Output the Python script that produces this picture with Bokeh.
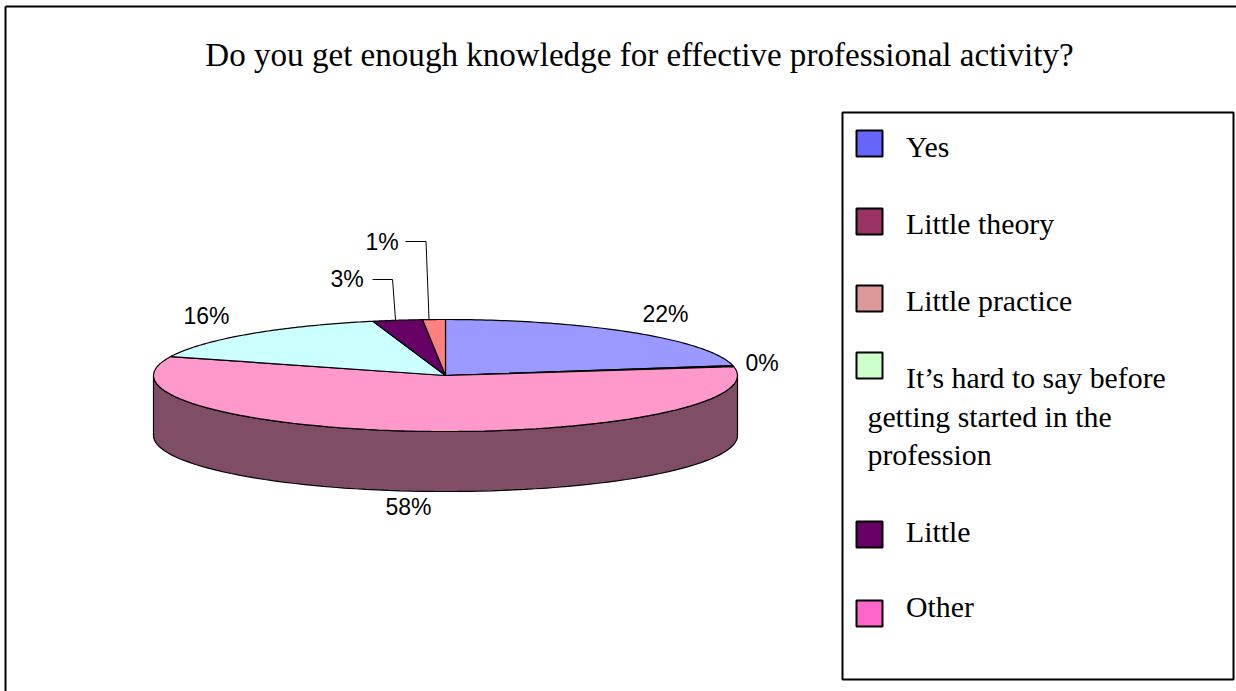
import math
from bokeh.plotting import figure
from bokeh.models import Range1d
from bokeh.core.properties import value
from bokeh.embed import file_html
from bokeh.resources import INLINE

# data
title_text = "Do you get enough knowledge for effective professional activity?"
slice_names = ["Yes", "Little theory", "Other", "It's hard to say", "Little", "Little practice"]
slice_values = [22.2, 0.3, 58.0, 15.5, 2.75, 1.25]
slice_labels = ["22%", "0%", "58%", "16%", "3%", "1%"]
slice_colors = ["#9999FF", "#993366", "#FF99CC", "#CCFFFF", "#660066", "#FF8080"]
side_color = "#804D66"

legend_names = ["Yes", "Little theory", "Little practice", "It\u2019s hard to say before", "Little", "Other"]
legend_colors = ["#6666FF", "#993366", "#DD9999", "#CCFFCC", "#660066", "#FF66CC"]
legend_extra = ["getting started in the", "profession"]

# layout (picture pixels, used as data space)
W, H = 1236, 691
CX, CY, RX, RY, DEPTH = 445, 375, 292, 56, 60
TITLE_FONT = "33.1px"
LEGEND_FONT = "29.8px"
LABEL_FONT = "23px"
SERIF = "Liberation Serif"
SANS = "Liberation Sans"
label_pos = [(642, 321 - 8), (745, 370 - 8), (385, 514 - 8), (183, 322 - 7), (330, 287 - 9), (365, 250 - 9)]
swatch_top = [130, 208, 285, 352, 521, 600]
legend_base = [146, 223, 300, 377, 531, 606]
extra_base = [416, 454]

p = figure(width=W, height=H, output_backend="svg", toolbar_location=None,
           x_range=Range1d(0, W), y_range=Range1d(H, 0),
           min_border=0, outline_line_color=None)
p.xaxis.visible = False
p.yaxis.visible = False
p.xgrid.visible = False
p.ygrid.visible = False
p.border_fill_color = "white"
p.background_fill_color = "white"


def rim(t):
    return CX + RX * math.sin(t), CY - RY * math.cos(t)


def arc(a, b, n=80):
    pts = [a + (b - a) * i / n for i in range(n + 1)]
    return [rim(t) for t in pts]


# outer frame
p.line([5, 5], [691, 6], line_color="black", line_width=2)
p.line([5, 1236], [6, 6], line_color="black", line_width=2)

# side wall
front = arc(math.pi / 2, 3 * math.pi / 2)
sx = [q[0] for q in front] + [q[0] for q in reversed(front)]
sy = [q[1] for q in front] + [q[1] + DEPTH for q in reversed(front)]
p.patch(sx, sy, fill_color=side_color, line_color="black", line_width=1.2)

# top wedges
total = sum(slice_values)
start = 0.0
mids = []
for val, col in zip(slice_values, slice_colors):
    a = start / total * 2 * math.pi
    b = (start + val) / total * 2 * math.pi
    pts = arc(a, b)
    p.patch([CX] + [q[0] for q in pts], [CY] + [q[1] for q in pts],
            fill_color=col, line_color="black", line_width=1.2)
    mids.append((a + b) / 2)
    start += val

# leader lines for the two narrow slices: (label end x, y, offset from slice middle)
for idx, (ex, ey, off) in {4: (372, 279, -2), 5: (405, 241, -5)}.items():
    mx, my = rim(mids[idx])
    mx += off
    elbow = mx - 3
    p.line([ex, elbow, mx], [ey, ey, my], line_color="black", line_width=1)

# pie labels
p.text([q[0] for q in label_pos], [q[1] for q in label_pos], text=slice_labels,
       text_font=value(SANS), text_font_size=value(LABEL_FONT),
       text_color="black", text_baseline="alphabetic", text_align="left")

# title
p.text([639], [54], text=[title_text], text_font=value(SERIF), text_font_size=value(TITLE_FONT),
       text_color="black", text_align="center", text_baseline="alphabetic")

# legend box
p.quad(left=[842], right=[1233], top=[112], bottom=[679], fill_color="white",
       line_color="black", line_width=2)
p.quad(left=[856] * 6, right=[882] * 6, top=swatch_top, bottom=[t + 26 for t in swatch_top],
       fill_color=legend_colors, line_color="black", line_width=2)
p.text([905.5] * 6, legend_base, text=legend_names, text_font=value(SERIF),
       text_font_size=value(LEGEND_FONT), text_color="black",
       text_baseline="alphabetic", text_align="left")
p.text([867] * 2, extra_base, text=legend_extra, text_font=value(SERIF),
       text_font_size=value(LEGEND_FONT), text_color="black",
       text_baseline="alphabetic", text_align="left")

open("out.html", "w").write(file_html(p, INLINE))
